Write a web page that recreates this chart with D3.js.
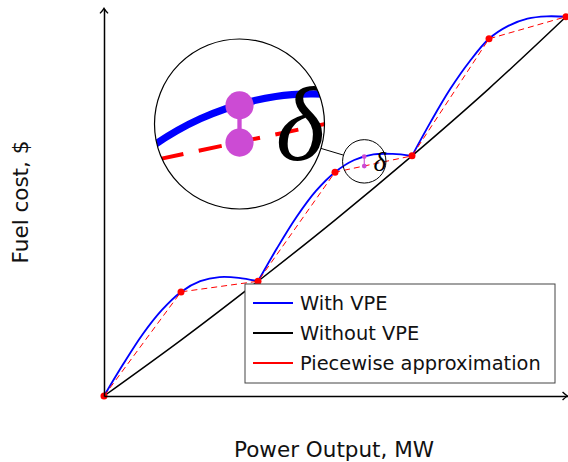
<!DOCTYPE html>
<html>
<head>
<meta charset="utf-8">
<script src="https://cdn.jsdelivr.net/npm/d3@7"></script>
<style>
  body { margin: 0; background: #fff; }
  text { font-family: "DejaVu Sans", sans-serif; }
</style>
</head>
<body>
<div id="chart"></div>
<script>
const width = 568;
const height = 462;

// power output (segment units) and fuel cost
const pointX = [0, 1, 2, 3, 4, 5, 6];
const withoutVpe = [0, 14.7, 30.2, 46.3, 63.2, 80.9, 99.8];
const piecewise = [0, 27.4, 30.2, 58.9, 63.2, 94.0, 99.8];

const curveX = [0, 0.25, 0.5, 0.75, 1, 1.25, 1.5, 1.75, 2, 2.25, 2.5, 2.75, 3,
  3.25, 3.5, 3.75, 4, 4.25, 4.5, 4.75, 5, 5.25, 5.5, 5.75, 6];
const withVpe = [0, 8.4, 16.2, 22.6, 27.4, 30.2, 31.3, 31.1, 30.2, 39.0, 47.1, 53.9, 58.9,
  62.1, 63.6, 63.7, 63.2, 72.4, 80.9, 88.1, 94.0, 97.4, 99.3, 99.9, 99.8];
const valleys = [0, 2, 4, 6];

// the gap delta marked between the curve and the approximation
const gapX = 3.38;
const gapY = [63.0, 60.5];

const legendNames = ["With VPE", "Without VPE", "Piecewise approximation"];
const legendColors = ["#0000ff", "#000000", "#ff0000"];

const x = d3.scaleLinear().domain([0, 6]).range([104, 566]);
const y = d3.scaleLinear().domain([0, 100]).range([396, 16]);

const svg = d3.select("#chart")
  .append("svg")
  .attr("width", width)
  .attr("height", height);

const blueData = curveX.map(function(d, i) { return [d, withVpe[i]]; });
const segments = d3.pairs(valleys).map(function(p) {
  return blueData.filter(function(d) { return d[0] >= p[0] && d[0] <= p[1]; });
});

function drawContent(g, dotR) {
  const line = d3.line()
    .x(function(d) { return x(d[0]); })
    .y(function(d) { return y(d[1]); });

  g.append("path")
    .datum(pointX.map(function(d, i) { return [d, withoutVpe[i]]; }))
    .attr("fill", "none")
    .attr("stroke", "#000")
    .attr("stroke-width", 1.5)
    .attr("d", line.curve(d3.curveCatmullRom));

  g.selectAll(".vpe")
    .data(segments)
    .enter()
    .append("path")
    .attr("class", "vpe")
    .attr("fill", "none")
    .attr("stroke", "#0000ff")
    .attr("stroke-width", 1.85)
    .attr("d", line.curve(d3.curveCatmullRom));

  g.append("path")
    .datum(pointX.map(function(d, i) { return [d, piecewise[i]]; }))
    .attr("fill", "none")
    .attr("stroke", "#ff0000")
    .attr("stroke-width", 1)
    .attr("stroke-dasharray", "6,4")
    .attr("d", line.curve(d3.curveLinear));

  g.selectAll(".knot")
    .data(pointX)
    .enter()
    .append("circle")
    .attr("class", "knot")
    .attr("cx", function(d) { return x(d); })
    .attr("cy", function(d, i) { return y(piecewise[i]); })
    .attr("r", 3.5)
    .attr("fill", "#ff0000");

  g.append("line")
    .attr("x1", x(gapX)).attr("x2", x(gapX))
    .attr("y1", y(gapY[0])).attr("y2", y(gapY[1]))
    .attr("stroke", "#cc4bd4")
    .attr("stroke-width", 1.1);

  g.selectAll(".gap")
    .data(gapY)
    .enter()
    .append("circle")
    .attr("class", "gap")
    .attr("cx", x(gapX))
    .attr("cy", function(d) { return y(d); })
    .attr("r", dotR)
    .attr("fill", "#cc4bd4");

  g.append("text")
    .attr("x", x(gapX) + 15.5)
    .attr("y", y(gapY[1]) + 4.5)
    .attr("text-anchor", "middle")
    .style("font-family", "'Liberation Serif', serif")
    .style("font-style", "italic")
    .style("font-size", "27px")
    .text("δ");
}

drawContent(svg.append("g"), 2.4);

// axes with arrow heads
const xAxisScale = d3.scaleLinear().domain([0, 6.02]).range([x(0), x(6.02)]);
const yAxisScale = d3.scaleLinear().domain([0, 102]).range([y(0), y(102)]);

svg.append("g")
  .attr("transform", "translate(0," + y(0) + ")")
  .call(d3.axisBottom(xAxisScale).tickValues([]).tickSizeOuter(0))
  .select(".domain").attr("stroke-width", 1.5);

svg.append("g")
  .attr("transform", "translate(" + x(0) + ",0)")
  .call(d3.axisLeft(yAxisScale).tickValues([]).tickSizeOuter(0))
  .select(".domain").attr("stroke-width", 1.5);

const tipX = xAxisScale.range()[1];
const tipY = yAxisScale.range()[1];
svg.append("path")
  .attr("d", "M" + (tipX - 5) + "," + (y(0) - 4) + "Q" + (tipX - 1.5) + "," + (y(0) - 0.8) + " " + tipX + "," + y(0) +
    "Q" + (tipX - 1.5) + "," + (y(0) + 0.8) + " " + (tipX - 5) + "," + (y(0) + 4))
  .attr("fill", "none").attr("stroke", "#000").attr("stroke-width", 1.4);
svg.append("path")
  .attr("d", "M" + (x(0) - 4) + "," + (tipY + 5) + "Q" + (x(0) - 0.8) + "," + (tipY + 1.5) + " " + x(0) + "," + tipY +
    "Q" + (x(0) + 0.8) + "," + (tipY + 1.5) + " " + (x(0) + 4) + "," + (tipY + 5))
  .attr("fill", "none").attr("stroke", "#000").attr("stroke-width", 1.4);

svg.append("text")
  .attr("x", 334)
  .attr("y", 457)
  .attr("text-anchor", "middle")
  .style("font-size", "21.5px")
  .attr("fill", "#111")
  .text("Power Output, MW");

svg.append("text")
  .attr("transform", "translate(28,202) rotate(-90)")
  .attr("text-anchor", "middle")
  .style("font-size", "21.5px")
  .attr("fill", "#111")
  .text("Fuel cost, $");

// legend
const legend = svg.append("g").attr("transform", "translate(245,284)");
legend.append("rect")
  .attr("width", 310)
  .attr("height", 99)
  .attr("fill", "#fff")
  .attr("stroke", "#444")
  .attr("stroke-width", 1);

const item = legend.selectAll(".item")
  .data(legendNames)
  .enter()
  .append("g")
  .attr("class", "item")
  .attr("transform", function(d, i) { return "translate(0," + (19 + i * 30) + ")"; });

item.append("line")
  .attr("x1", 8).attr("x2", 48)
  .attr("stroke", function(d, i) { return legendColors[i]; })
  .attr("stroke-width", 1.8);

item.append("text")
  .attr("x", 55)
  .attr("y", 7)
  .style("font-size", "19.4px")
  .attr("fill", "#111")
  .text(function(d) { return d; });

// spy: small circle on the gap, magnified copy in the big circle
const spyC = [x(gapX), (y(gapY[0]) + y(gapY[1])) / 2];
const spyR = 21.7;
const bigC = [239.5, 124];
const bigR = 85;
const mag = bigR / spyR;

const dx = bigC[0] - spyC[0];
const dy = bigC[1] - spyC[1];
const dist = Math.sqrt(dx * dx + dy * dy);

svg.append("line")
  .attr("x1", spyC[0] + dx / dist * spyR).attr("y1", spyC[1] + dy / dist * spyR)
  .attr("x2", bigC[0] - dx / dist * bigR).attr("y2", bigC[1] - dy / dist * bigR)
  .attr("stroke", "#000").attr("stroke-width", 1);

svg.append("circle")
  .attr("cx", spyC[0]).attr("cy", spyC[1]).attr("r", spyR)
  .attr("fill", "none").attr("stroke", "#000").attr("stroke-width", 1);

svg.append("circle")
  .attr("cx", bigC[0]).attr("cy", bigC[1]).attr("r", bigR)
  .attr("fill", "#fff");

svg.append("clipPath")
  .attr("id", "spy-clip")
  .append("circle")
  .attr("cx", bigC[0]).attr("cy", bigC[1]).attr("r", bigR);

const zoomed = svg.append("g")
  .attr("clip-path", "url(#spy-clip)")
  .append("g")
  .attr("transform", "translate(" + bigC[0] + "," + bigC[1] + ") scale(" + mag + ") translate(" + (-spyC[0]) + "," + (-spyC[1]) + ")");
drawContent(zoomed, 3.6);

svg.append("circle")
  .attr("cx", bigC[0]).attr("cy", bigC[1]).attr("r", bigR)
  .attr("fill", "none").attr("stroke", "#000").attr("stroke-width", 1.2);
</script>
</body>
</html>
